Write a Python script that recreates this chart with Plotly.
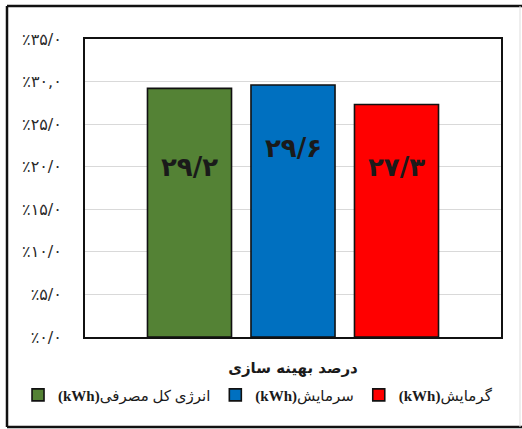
import plotly.graph_objects as go

# Data
category = ["درصد بهینه سازی"]
series_names = ["<b>(kWh)</b>انرژی کل مصرفی", "<b>(kWh)</b>سرمایش", "<b>(kWh)</b>گرمایش"]
series_values = [29.2, 29.6, 27.3]
series_colors = ["#548235", "#0070C0", "#FF0000"]

y_tick_vals = [0, 5, 10, 15, 20, 25, 30, 35]
y_tick_text = ["٪۰/۰", "٪۵/۰", "٪۱۰/۰", "٪۱۵/۰", "٪۲۰/۰", "٪۲۵/۰", "٪۳۰,۰", "٪۳۵/۰"]

# vertical placement of the value labels inside each bar (axis units)
label_heights = [20.0, 22.2, 20.0]

FA_DIGITS = str.maketrans("0123456789", "۰۱۲۳۴۵۶۷۸۹")


def to_fa(v):
    return f"{v:.1f}".replace(".", "/").translate(FA_DIGITS)


BARGAP = 0.2536
BARGROUPGAP = 0.188
slot = (1 - BARGAP) / len(series_values)

fig = go.Figure()
for name, val, col in zip(series_names, series_values, series_colors):
    fig.add_trace(go.Bar(
        x=category, y=[val], name=name,
        marker=dict(color=col, line=dict(color="#111111", width=1.6)),
    ))

for i, (val, ly) in enumerate(zip(series_values, label_heights)):
    fig.add_annotation(
        x=(i - 1) * slot, y=ly, xref="x", yref="y",
        text=f"<b>{to_fa(val)}</b>", showarrow=False,
        font=dict(family="DejaVu Sans", size=26, color="#1a1a1a"),
    )

# outer frame around the whole chart
frame = dict(xref="paper", yref="paper", type="line")
x0, x1, y0, y1 = -0.1875, 1.0457, -0.302, 1.1107
fig.add_shape(**frame, x0=x0, x1=x0, y0=y0, y1=y1, line=dict(color="#111111", width=2.5))
fig.add_shape(**frame, x0=x0, x1=1.06, y0=y1, y1=y1, line=dict(color="#111111", width=2.5))
fig.add_shape(**frame, x0=x0, x1=1.06, y0=y0, y1=y0, line=dict(color="#111111", width=2.5))
fig.add_shape(**frame, x0=x1, x1=x1, y0=y0, y1=y1, line=dict(color="#dddddd", width=1))

fig.update_layout(
    width=522, height=429,
    margin=dict(l=85, r=21, t=39, b=92, autoexpand=False),
    paper_bgcolor="white", plot_bgcolor="white",
    barmode="group", bargap=BARGAP, bargroupgap=BARGROUPGAP,
    showlegend=True,
    legend=dict(
        orientation="h", x=-0.161, xanchor="left", y=-0.195, yanchor="middle",
        font=dict(family="Liberation Serif, DejaVu Sans", size=15, color="#1a1a1a"),
        traceorder="normal", itemwidth=30, tracegroupgap=0,
        bgcolor="rgba(0,0,0,0)",
    ),
    font=dict(family="DejaVu Sans"),
)
fig.update_xaxes(
    showline=True, mirror=True, linecolor="#111111", linewidth=2,
    ticks="", ticklabelstandoff=16,
    tickprefix="<b>", ticksuffix="</b>",
    tickfont=dict(family="DejaVu Sans", size=15, color="#1a1a1a"),
)
fig.update_yaxes(
    range=[0, 35], tickvals=y_tick_vals, ticktext=y_tick_text,
    showline=True, mirror=True, linecolor="#111111", linewidth=2,
    showgrid=True, gridcolor="#d9d9d9", gridwidth=1, zeroline=False,
    ticks="", ticklabelstandoff=18,
    tickfont=dict(family="DejaVu Sans", size=16, color="#2a2a2a"),
)

fig.write_html("out.html")
